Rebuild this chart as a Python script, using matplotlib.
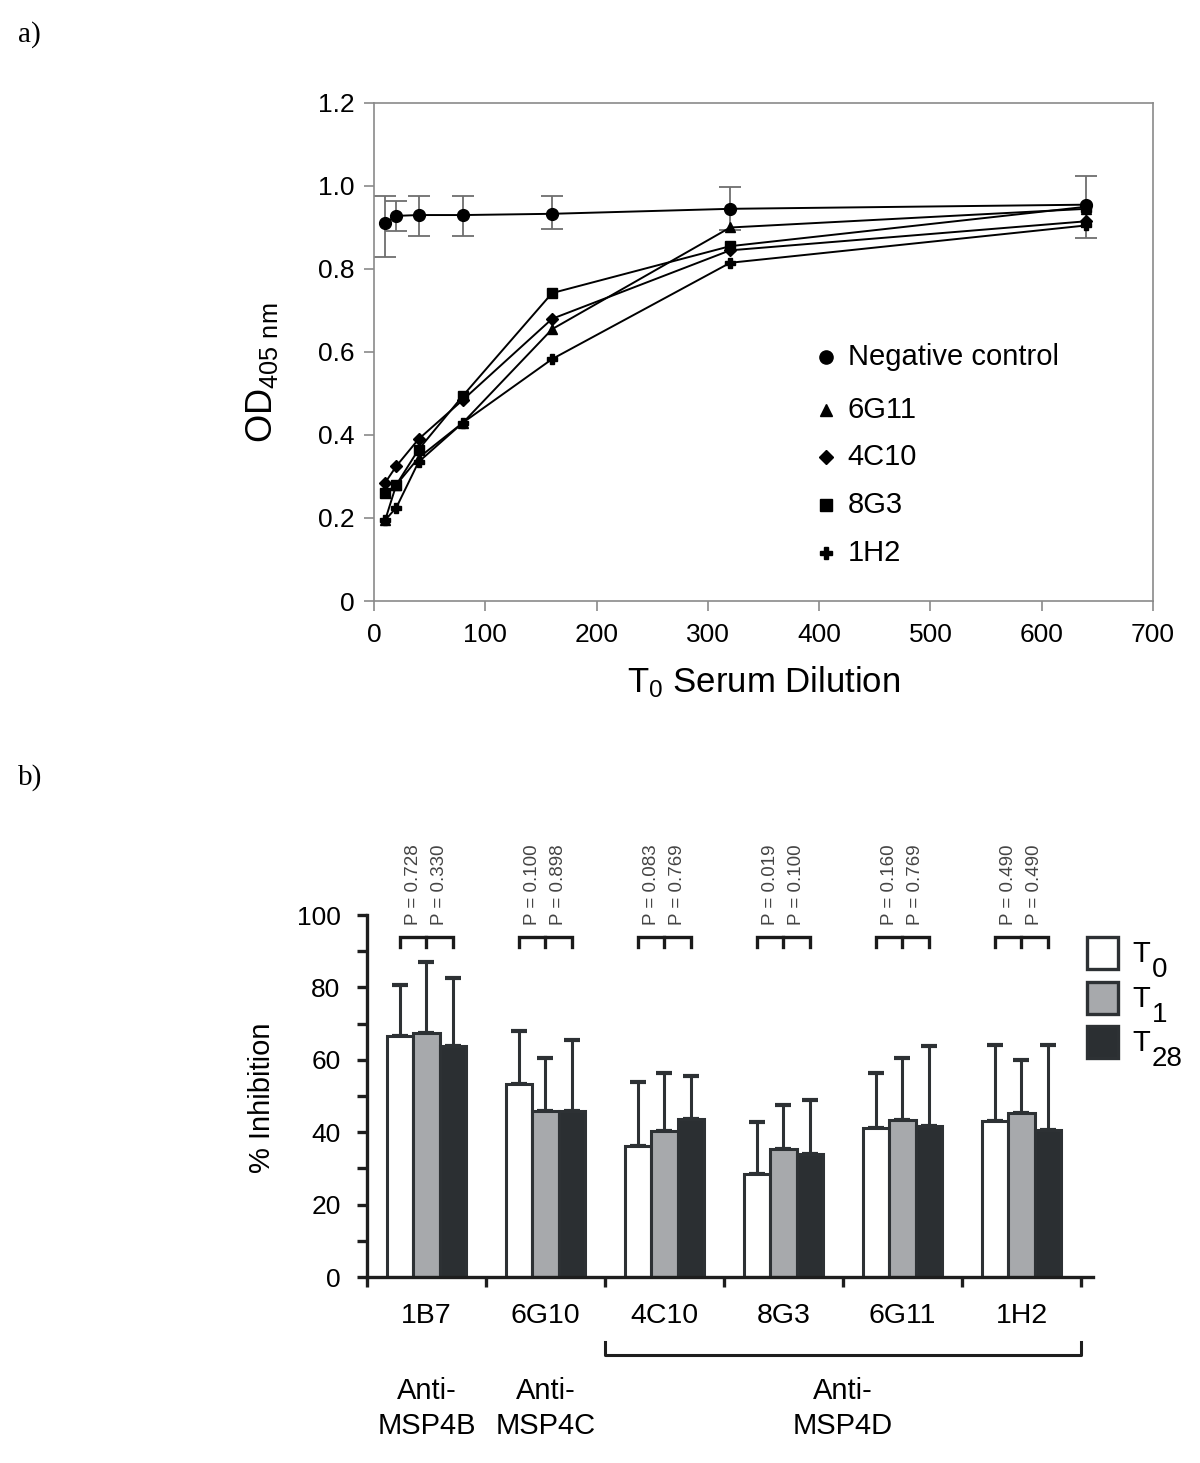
import numpy as np
import matplotlib
matplotlib.use("Agg")
import matplotlib.pyplot as plt
from matplotlib.patches import Rectangle

plt.rcParams['font.family'] = ['Liberation Sans', 'DejaVu Sans']
plt.rcParams['mathtext.fontset'] = 'custom'
plt.rcParams['mathtext.rm'] = 'Liberation Sans'
plt.rcParams['mathtext.default'] = 'regular'

# panel a data
dilution = [10, 20, 40, 80, 160, 320, 640]
neg_ctrl = [0.911, 0.928, 0.930, 0.930, 0.933, 0.945, 0.955]
neg_lo = [0.083, 0.037, 0.050, 0.050, 0.036, 0.050, 0.080]
neg_hi = [0.064, 0.035, 0.045, 0.045, 0.042, 0.053, 0.070]
od_6G11 = [0.195, 0.280, 0.345, 0.430, 0.655, 0.900, 0.945]
od_4C10 = [0.285, 0.325, 0.390, 0.485, 0.680, 0.845, 0.915]
od_8G3 = [0.260, 0.280, 0.365, 0.495, 0.742, 0.855, 0.950]
od_1H2 = [0.195, 0.225, 0.335, 0.430, 0.583, 0.815, 0.905]

# panel b data
clones = ['1B7', '6G10', '4C10', '8G3', '6G11', '1H2']
t0 = [66.7, 53.3, 36.3, 28.6, 41.3, 43.2]
t0_err = [14.0, 14.7, 17.7, 14.3, 15.0, 20.9]
t1 = [67.3, 45.8, 40.4, 35.5, 43.4, 45.4]
t1_err = [19.8, 14.8, 16.1, 12.0, 17.0, 14.7]
t28 = [63.8, 45.8, 43.6, 34.0, 41.8, 40.6]
t28_err = [18.7, 19.7, 11.9, 14.9, 21.9, 23.5]
p_t1 = ['0.728', '0.100', '0.083', '0.019', '0.160', '0.490']
p_t28 = ['0.330', '0.898', '0.769', '0.100', '0.769', '0.490']
groups = ['Anti-\nMSP4B', 'Anti-\nMSP4C', 'Anti-\nMSP4D']
group_pos = [0, 1, 3.5]

fig = plt.figure(figsize=(12, 14.63), dpi=100)

# ---------- a) ----------
ax = fig.add_axes([0.3117, 0.5892, 0.6492, 0.3404])
spc = '#8a8a8a'
for s in ax.spines.values():
    s.set_color(spc)
    s.set_linewidth(1.2)
ax.errorbar(dilution, neg_ctrl, yerr=[neg_lo, neg_hi], fmt='none', ecolor='#6e6e6e',
            elinewidth=1.3, capsize=8, capthick=1.3, zorder=2)
series = [(neg_ctrl, 'o', 8.5), (od_6G11, '^', 7), (od_4C10, 'D', 6.5),
          (od_8G3, 's', 7.5), (od_1H2, 'P', 7.5)]
for vals, m, ms in series:
    ax.plot(dilution, vals, color='black', lw=1.4, marker=m, ms=ms, zorder=3)
ax.set_xlim(0, 700)
ax.set_ylim(0, 1.2)
ax.set_xticks(range(0, 701, 100))
ax.set_yticks([0, 0.2, 0.4, 0.6, 0.8, 1.0, 1.2])
ax.set_yticklabels(['0', '0.2', '0.4', '0.6', '0.8', '1.0', '1.2'])
ax.tick_params(axis='both', direction='out', color=spc, length=7, width=1.2, labelsize=19)
ax.tick_params(axis='x', pad=9)
ax.tick_params(axis='y', pad=7)
ax.set_xlabel('T$_0$ Serum Dilution', fontsize=25, labelpad=12)
fig.text(262 / 1200, 1 - 373 / 1463, 'OD$_{405\\ nm}$', rotation=90, fontsize=26,
         ha='center', va='center')

leg_labels = ['Negative control', '6G11', '4C10', '8G3', '1H2']
leg_y = [0.490, 0.384, 0.289, 0.193, 0.096]
for (vals, m, ms), lab, yy in zip(series, leg_labels, leg_y):
    ax.plot([0.580], [yy], marker=m, ms=ms + 1, color='black', transform=ax.transAxes,
            clip_on=False)
    ax.text(0.608, yy, lab, transform=ax.transAxes, fontsize=21, va='center', ha='left')

# ---------- b) ----------
bx = fig.add_axes([0.3058, 0.1271, 0.6049, 0.2474])
dark = '#2d3134'
x = np.arange(len(clones))
w = 0.22
face = ['white', '#a7a9ac', '#2b2f32']
vals_b = [t0, t1, t28]
errs_b = [t0_err, t1_err, t28_err]
for i, (v, e, fc) in enumerate(zip(vals_b, errs_b, face)):
    xx = x + (i - 1) * w
    bx.bar(xx, v, width=w, color=fc, edgecolor=dark, linewidth=2.2, zorder=2)
    bx.errorbar(xx, v, yerr=[np.zeros(len(v)), e], fmt='none', ecolor=dark,
                elinewidth=2.2, capsize=5.5, capthick=3, zorder=1)

for i in range(len(clones)):
    xs = [x[i] - w, x[i], x[i] + w]
    bx.plot([xs[0], xs[0], xs[2], xs[2]], [91.2, 94, 94, 91.2], color='#1a1a1a',
            lw=2.4, solid_joinstyle='miter', clip_on=False)
    bx.plot([xs[1], xs[1]], [94, 91.2], color='#1a1a1a', lw=2.4, clip_on=False)
    bx.text(x[i] - w / 2, 97.2, 'P = ' + p_t1[i], rotation=90, ha='center', va='bottom',
            fontsize=13.5, color='#444444', clip_on=False)
    bx.text(x[i] + w / 2, 97.2, 'P = ' + p_t28[i], rotation=90, ha='center', va='bottom',
            fontsize=13.5, color='#444444', clip_on=False)

bx.set_xlim(-0.5, 5.6)
bx.set_ylim(0, 100)
for s in ['top', 'right']:
    bx.spines[s].set_visible(False)
for s in ['left', 'bottom']:
    bx.spines[s].set_color('#1e1e1e')
    bx.spines[s].set_linewidth(2.4)
bx.set_yticks(range(0, 101, 20))
bx.set_yticks(range(10, 100, 20), minor=True)
bx.set_xticks(x)
bx.set_xticklabels(clones)
bx.set_xticks(np.arange(-0.5, 6, 1), minor=True)
bx.tick_params(axis='y', which='both', direction='out', length=7, width=2.4,
               color='#1e1e1e', labelsize=19, pad=12)
bx.tick_params(axis='x', which='major', length=0, labelsize=20.5, pad=19)
bx.tick_params(axis='x', which='minor', direction='out', length=7, width=2.4,
               color='#1e1e1e')
fig.text(262 / 1200, 1 - 1098 / 1463, '% Inhibition', rotation=90, fontsize=21,
         ha='center', va='center')

bx.plot([1.5, 1.5, 5.5, 5.5], [-18, -21.5, -21.5, -18], color='#1e1e1e', lw=2.2,
        clip_on=False)
for g, gp in zip(groups, group_pos):
    bx.text(gp, -27.5, g, ha='center', va='top', fontsize=21, linespacing=1.35)

# legend for b
leg_y_px = [937, 982, 1026]
leg_sub = ['0', '1', '28']
for fc, yy, sub in zip(face, leg_y_px, leg_sub):
    fig.add_artist(Rectangle((1087 / 1200, 1 - (yy + 32) / 1463), 31 / 1200, 32 / 1463,
                             facecolor=fc, edgecolor=dark, linewidth=2.4,
                             transform=fig.transFigure))
    fig.text(1132 / 1200, 1 - (yy + 17) / 1463, 'T', fontsize=21, ha='left', va='center')
    fig.text(1152 / 1200, 1 - (yy + 33) / 1463, sub, fontsize=20, ha='left', va='center')

fig.text(18 / 1200, 1 - 35 / 1463, 'a)', family='Liberation Serif', fontsize=21,
         ha='left', va='center')
fig.text(18 / 1200, 1 - 778 / 1463, 'b)', family='Liberation Serif', fontsize=21,
         ha='left', va='center')

fig.savefig('out.png', dpi=100)
